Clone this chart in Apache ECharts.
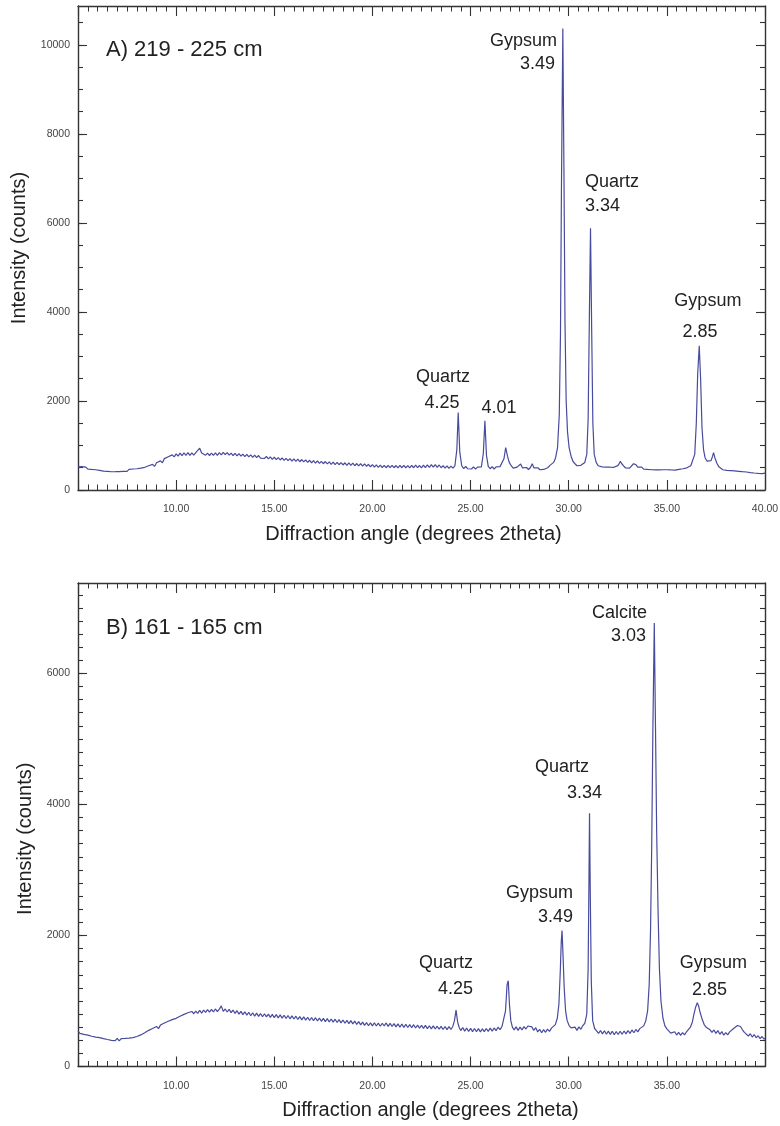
<!DOCTYPE html>
<html><head><meta charset="utf-8">
<script src="https://cdn.jsdelivr.net/npm/echarts@6/dist/echarts.min.js"></script>
<style>html,body{margin:0;padding:0;background:#fff}#c{width:780px;height:1126px}</style>
</head><body><div id="c"></div>
<script>
// ---------- Panel A: 219 - 225 cm  [angle (deg 2theta), counts] ----------
const patternA = [
[5.0,520],[5.1,488],[5.2,525],[5.3,482],[5.4,515],[5.5,470],[5.6,508],[5.7,462],[5.8,498],[5.9,455],
[6.0,490],[6.1,440],[6.2,475],[6.3,425],[6.4,462],[6.5,418],[6.6,455],[6.7,410],[6.8,452],[6.9,412],
[7.0,448],[7.1,415],[7.2,458],[7.3,418],[7.4,462],[7.5,420],[7.6,465],[7.7,428],[7.8,472],[7.9,432],
[8.0,478],[8.1,440],[8.2,490],[8.3,455],[8.4,510],[8.5,470],[8.6,545],[8.7,505],[8.8,575],[8.9,530],
[9.0,612],[9.1,568],[9.2,655],[9.3,610],[9.4,705],[9.5,680],[9.6,748],[9.7,725],[9.8,790],[9.9,745],
[10.0,812],[10.1,762],[10.2,828],[10.3,770],[10.4,835],[10.5,775],[10.6,840],[10.7,780],[10.8,835],[10.9,785],
[11.0,838],[11.1,860],[11.2,940],[11.3,830],[11.4,835],[11.5,782],[11.6,830],[11.7,775],[11.8,828],[11.9,778],
[12.0,832],[12.1,780],[12.2,840],[12.3,790],[12.4,845],[12.5,795],[12.6,840],[12.7,785],[12.8,830],[12.9,775],
[13.0,822],[13.1,768],[13.2,815],[13.3,760],[13.4,808],[13.5,752],[13.6,800],[13.7,745],[13.8,790],[13.9,735],
[14.0,782],[14.1,728],[14.2,775],[14.3,718],[14.4,762],[14.5,708],[14.6,755],[14.7,700],[14.8,745],[14.9,690],
[15.0,738],[15.1,682],[15.2,728],[15.3,675],[15.4,720],[15.5,665],[15.6,712],[15.7,660],[15.8,705],[15.9,650],
[16.0,698],[16.1,645],[16.2,692],[16.3,635],[16.4,685],[16.5,630],[16.6,678],[16.7,622],[16.8,668],[16.9,612],
[17.0,660],[17.1,605],[17.2,652],[17.3,598],[17.4,645],[17.5,590],[17.6,640],[17.7,585],[17.8,632],[17.9,578],
[18.0,628],[18.1,572],[18.2,622],[18.3,568],[18.4,615],[18.5,562],[18.6,612],[18.7,555],[18.8,608],[18.9,552],
[19.0,602],[19.1,545],[19.2,595],[19.3,540],[19.4,590],[19.5,535],[19.6,585],[19.7,530],[19.8,578],[19.9,522],
[20.0,572],[20.1,515],[20.2,565],[20.3,510],[20.4,560],[20.5,505],[20.6,555],[20.7,500],[20.8,552],[20.9,502],
[21.0,555],[21.1,500],[21.2,550],[21.3,498],[21.4,552],[21.5,500],[21.6,555],[21.7,495],[21.8,548],[21.9,495],
[22.0,552],[22.1,500],[22.2,560],[22.3,502],[22.4,550],[22.5,498],[22.6,558],[22.7,505],[22.8,565],[22.9,510],
[23.0,572],[23.1,512],[23.2,568],[23.3,508],[23.4,562],[23.5,500],[23.6,548],[23.7,492],[23.8,540],[23.9,485],
[24.0,535],[24.1,490],[24.2,540],[24.3,900],[24.37,1740],[24.45,850],[24.55,545],[24.65,482],[24.75,528],[24.85,478],
[24.95,522],[25.05,472],[25.15,520],[25.25,470],[25.35,515],[25.45,475],[25.55,520],[25.65,820],[25.73,1555],[25.81,780],
[25.9,530],[26.0,478],[26.1,525],[26.2,472],[26.3,520],[26.4,478],[26.5,525],[26.6,560],[26.7,700],[26.79,955],
[26.88,760],[26.97,620],[27.07,545],[27.17,490],[27.27,470],[27.37,515],[27.47,520],[27.55,585],[27.65,495],[27.75,465],
[27.85,505],[27.95,460],[28.05,505],[28.14,590],[28.23,495],[28.33,462],[28.43,500],[28.53,455],[28.63,498],[28.73,462],
[28.83,505],[28.93,500],[29.03,548],[29.13,560],[29.23,620],[29.33,720],[29.43,950],[29.52,1700],[29.58,3500],[29.63,6800],
[29.70,10370],[29.76,7000],[29.81,3800],[29.87,2000],[29.94,1300],[30.02,950],[30.12,760],[30.22,640],[30.32,590],[30.42,545],
[30.52,520],[30.62,555],[30.72,560],[30.82,620],[30.92,800],[30.99,1600],[31.05,3800],[31.11,5880],[31.17,3600],[31.23,1500],
[31.3,800],[31.4,620],[31.5,545],[31.6,505],[31.7,520],[31.8,490],[31.9,515],[32.0,485],[32.1,512],[32.2,480],
[32.3,510],[32.4,505],[32.5,548],[32.58,600],[32.63,645],[32.7,590],[32.8,540],[32.9,495],[33.0,530],[33.1,490],
[33.2,530],[33.3,590],[33.35,625],[33.42,570],[33.52,515],[33.62,485],[33.72,515],[33.82,470],[33.92,505],[34.02,462],
[34.12,498],[34.22,455],[34.32,492],[34.42,450],[34.52,488],[34.62,452],[34.72,495],[34.82,455],[34.92,498],[35.02,455],
[35.12,492],[35.22,450],[35.32,488],[35.42,448],[35.52,485],[35.62,465],[35.72,490],[35.82,478],[35.92,500],[36.02,498],
[36.12,525],[36.22,545],[36.32,580],[36.42,800],[36.5,1500],[36.57,2600],[36.65,3240],[36.72,2500],[36.79,1400],[36.87,900],
[36.95,720],[37.05,650],[37.15,630],[37.25,660],[37.33,760],[37.38,840],[37.45,720],[37.55,600],[37.65,520],[37.75,495],
[37.85,455],[37.95,490],[38.05,442],[38.15,480],[38.25,435],[38.35,472],[38.45,428],[38.55,465],[38.65,420],[38.75,458],
[38.85,412],[38.95,450],[39.05,405],[39.15,442],[39.25,392],[39.35,428],[39.45,382],[39.55,420],[39.65,375],[39.75,412],
[39.85,370],[39.95,402],[40.0,380]
];

// ---------- Panel B: 161 - 165 cm  [angle (deg 2theta), counts] ----------
const patternB = [
[5.0,540],[5.1,505],[5.2,530],[5.3,490],[5.4,515],[5.5,478],[5.6,500],[5.7,462],[5.8,488],[5.9,448],
[6.0,475],[6.1,440],[6.2,462],[6.3,425],[6.4,450],[6.5,412],[6.6,438],[6.7,400],[6.8,430],[6.9,395],
[7.0,428],[7.1,392],[7.2,425],[7.3,395],[7.4,428],[7.5,398],[7.6,432],[7.7,402],[7.8,440],[7.9,415],
[8.0,458],[8.1,432],[8.2,482],[8.3,460],[8.4,515],[8.5,492],[8.6,552],[8.7,525],[8.8,580],[8.9,555],
[9.0,612],[9.1,578],[9.2,632],[9.3,612],[9.4,665],[9.5,645],[9.6,690],[9.7,665],[9.8,715],[9.9,690],
[10.0,735],[10.1,715],[10.2,768],[10.3,748],[10.4,795],[10.5,775],[10.6,820],[10.7,792],[10.8,840],[10.9,805],
[11.0,845],[11.1,810],[11.2,858],[11.3,815],[11.4,862],[11.5,825],[11.6,868],[11.7,830],[11.8,872],[11.9,835],
[12.0,878],[12.1,838],[12.2,875],[12.3,925],[12.4,842],[12.5,878],[12.6,832],[12.7,872],[12.8,822],[12.9,862],
[13.0,810],[13.1,852],[13.2,800],[13.3,842],[13.4,792],[13.5,835],[13.6,785],[13.7,828],[13.8,775],[13.9,820],
[14.0,768],[14.1,815],[14.2,765],[14.3,808],[14.4,760],[14.5,805],[14.6,758],[14.7,800],[14.8,750],[14.9,795],
[15.0,745],[15.1,792],[15.2,742],[15.3,788],[15.4,738],[15.5,782],[15.6,732],[15.7,778],[15.8,728],[15.9,772],
[16.0,725],[16.1,768],[16.2,718],[16.3,762],[16.4,712],[16.5,758],[16.6,708],[16.7,752],[16.8,702],[16.9,748],
[17.0,698],[17.1,745],[17.2,695],[17.3,738],[17.4,690],[17.5,735],[17.6,685],[17.7,730],[17.8,680],[17.9,725],
[18.0,678],[18.1,722],[18.2,672],[18.3,715],[18.4,665],[18.5,710],[18.6,660],[18.7,705],[18.8,655],[18.9,700],
[19.0,650],[19.1,692],[19.2,642],[19.3,685],[19.4,635],[19.5,678],[19.6,628],[19.7,670],[19.8,622],[19.9,665],
[20.0,620],[20.1,668],[20.2,618],[20.3,662],[20.4,615],[20.5,660],[20.6,618],[20.7,665],[20.8,612],[20.9,658],
[21.0,610],[21.1,655],[21.2,605],[21.3,650],[21.4,602],[21.5,648],[21.6,598],[21.7,645],[21.8,595],[21.9,640],
[22.0,592],[22.1,638],[22.2,588],[22.3,632],[22.4,585],[22.5,630],[22.6,582],[22.7,628],[22.8,578],[22.9,622],
[23.0,575],[23.1,620],[23.2,572],[23.3,615],[23.4,570],[23.5,612],[23.6,565],[23.7,610],[23.8,562],[23.9,608],
[24.0,565],[24.1,615],[24.18,700],[24.26,860],[24.34,680],[24.42,595],[24.5,548],[24.6,595],[24.7,540],[24.8,588],
[24.9,535],[25.0,582],[25.1,532],[25.2,580],[25.3,530],[25.4,578],[25.5,528],[25.6,575],[25.7,532],[25.8,580],
[25.9,535],[26.0,585],[26.1,540],[26.2,588],[26.3,548],[26.4,600],[26.5,562],[26.6,610],[26.7,640],[26.78,850],
[26.86,1250],[26.92,1310],[26.98,950],[27.05,700],[27.13,600],[27.22,560],[27.32,605],[27.42,552],[27.52,600],[27.62,558],
[27.72,608],[27.82,572],[27.92,618],[28.02,630],[28.12,605],[28.22,552],[28.32,592],[28.42,528],[28.52,568],[28.62,515],
[28.72,562],[28.82,522],[28.92,570],[29.02,535],[29.12,585],[29.22,585],[29.32,640],[29.42,740],[29.5,950],[29.57,1450],
[29.62,1900],[29.66,2074],[29.71,1700],[29.77,1200],[29.84,850],[29.92,700],[30.02,625],[30.12,590],[30.22,560],[30.32,600],
[30.42,552],[30.52,605],[30.62,568],[30.72,625],[30.82,660],[30.92,800],[30.99,1500],[31.03,2800],[31.06,3866],[31.1,2600],
[31.15,1300],[31.22,700],[31.32,580],[31.42,545],[31.52,505],[31.62,550],[31.72,498],[31.82,545],[31.92,492],[32.02,540],
[32.12,490],[32.22,538],[32.32,485],[32.42,535],[32.52,488],[32.62,538],[32.72,492],[32.82,542],[32.92,498],[33.02,550],
[33.12,505],[33.22,558],[33.32,515],[33.42,565],[33.52,528],[33.62,578],[33.72,580],[33.82,620],[33.92,690],[34.02,850],
[34.1,1250],[34.17,2100],[34.23,3400],[34.29,5200],[34.36,6770],[34.42,5200],[34.48,3600],[34.55,2400],[34.62,1500],[34.7,1000],
[34.8,740],[34.9,620],[35.0,575],[35.1,548],[35.2,510],[35.3,520],[35.4,530],[35.5,480],[35.6,522],[35.7,475],
[35.8,518],[35.9,482],[36.0,530],[36.1,545],[36.2,600],[36.3,680],[36.38,800],[36.46,900],[36.55,975],[36.62,920],
[36.7,820],[36.8,720],[36.9,640],[37.0,600],[37.1,575],[37.2,560],[37.3,520],[37.4,558],[37.5,505],[37.6,548],
[37.7,492],[37.8,532],[37.9,478],[38.0,518],[38.1,482],[38.2,528],[38.3,540],[38.4,580],[38.5,610],[38.6,625],
[38.67,645],[38.75,610],[38.85,560],[38.95,520],[39.05,510],[39.15,465],[39.25,500],[39.35,450],[39.45,488],[39.55,438],
[39.65,470],[39.75,425],[39.85,458],[39.95,418],[40.0,430]
];

// ---------- Tick labels ----------
const xTickLabelsA = [10, 15, 20, 25, 30, 35, 40];
const xTickLabelsB = [10, 15, 20, 25, 30, 35];
const yTickLabelsA = [0, 2000, 4000, 6000, 8000, 10000];
const yTickLabelsB = [0, 2000, 4000, 6000];
const yMinorStepA = 500, yMinorStepB = 200;
const yMaxA = 10875, yMaxB = 7380;

// ---------- Peak annotations (data coordinates) ----------
const peakTextA = ['Gypsum', '3.49', 'Quartz', '3.34', 'Quartz', '4.25', '4.01', 'Gypsum', '2.85'];
const peakAngleA = [29.40, 29.30, 30.83, 30.83, 23.59, 23.54, 26.45, 37.09, 36.69];
const peakCountA = [10089, 9572, 6921, 6381, 2539, 1955, 1843, 4247, 3550];
const peakAlignA = ['right', 'right', 'left', 'left', 'center', 'center', 'center', 'center', 'center'];

const peakTextB = ['Calcite', '3.03', 'Quartz', '3.34', 'Gypsum', '3.49', 'Quartz', '4.25', 'Gypsum', '2.85'];
const peakAngleB = [33.99, 33.94, 29.66, 30.80, 30.22, 30.22, 25.12, 25.12, 37.37, 37.17];
const peakCountB = [6916, 6565, 4567, 4171, 2646, 2280, 1578, 1182, 1578, 1167];
const peakAlignB = ['right', 'right', 'center', 'center', 'right', 'right', 'right', 'right', 'center', 'center'];

const titleA = 'A) 219 - 225 cm';
const titleB = 'B) 161 - 165 cm';
const xName = 'Diffraction angle (degrees 2theta)';
const yName = 'Intensity (counts)';

// ---------- Build ----------
const FONT = "'Liberation Sans', Arial, Helvetica, sans-serif";
const AX = '#333';
const LINE = '#474b9c';

function steps(max, step) { const r = []; for (let v = 0; v <= max; v += step) r.push(v); return r; }

function xAxisDef(gridIndex, pos, labels, nameOpt) {
  return Object.assign({
    type: 'value', gridIndex, position: pos, min: 5, max: 40, interval: 5,
    axisLine: { show: true, onZero: false, lineStyle: { color: AX, width: 1.4 } },
    axisTick: { show: true, inside: true, length: 10, lineStyle: { color: AX, width: 1.1 } },
    minorTick: { show: true, splitNumber: 10, length: 5.5, lineStyle: { color: AX, width: 1 } },
    splitLine: { show: false }, minorSplitLine: { show: false },
    axisLabel: labels ? { show: true, customValues: labels, formatter: v => Number(v).toFixed(2),
      margin: 14, fontSize: 10.5, color: '#444', fontFamily: FONT } : { show: false }
  }, nameOpt || {});
}
function yAxisDef(gridIndex, pos, max, tickVals, len, labels, showLine, nameOpt) {
  return Object.assign({
    type: 'value', gridIndex, position: pos, min: 0, max: max,
    axisLine: { show: showLine, onZero: false, lineStyle: { color: AX, width: 1.4 } },
    axisTick: { show: true, inside: true, customValues: tickVals, length: len, lineStyle: { color: AX, width: 1.1 } },
    splitLine: { show: false },
    axisLabel: labels ? { show: true, customValues: labels, formatter: v => String(v),
      margin: 8, fontSize: 10.5, color: '#444', fontFamily: FONT } : { show: false }
  }, nameOpt || {});
}
function annot(texts, xs, ys, aligns, xi, yi) {
  return {
    type: 'scatter', xAxisIndex: xi, yAxisIndex: yi, symbolSize: 0, silent: true, z: 5,
    itemStyle: { opacity: 1 },
    data: texts.map((t, i) => ({ value: [xs[i], ys[i]], name: t, label: { align: aligns[i] } })),
    label: { show: true, position: 'inside', formatter: p => p.name, fontSize: 18, color: '#222',
      opacity: 1, fontFamily: FONT, verticalAlign: 'middle' }
  };
}

const nameStyle = { fontSize: 20, color: '#222', fontFamily: FONT };

const option = {
  animation: false,
  backgroundColor: '#fff',
  title: [
    { text: titleA, left: 106, top: 39, padding: 0, textStyle: { fontSize: 22, fontWeight: 'normal', color: '#222', fontFamily: FONT } },
    { text: titleB, left: 106, top: 617, padding: 0, textStyle: { fontSize: 22, fontWeight: 'normal', color: '#222', fontFamily: FONT } }
  ],
  grid: [
    { left: 78, right: 15, top: 6, height: 484, outerBoundsMode: 'none' },
    { left: 78, right: 15, top: 583, height: 483.5, outerBoundsMode: 'none' }
  ],
  xAxis: [
    xAxisDef(0, 'bottom', xTickLabelsA, { name: xName, nameLocation: 'middle', nameGap: 34,
      nameTextStyle: Object.assign({ padding: [0, 16, 0, 0] }, nameStyle) }),
    xAxisDef(0, 'top', null),
    xAxisDef(1, 'bottom', xTickLabelsB, { name: xName, nameLocation: 'middle', nameGap: 34,
      nameTextStyle: Object.assign({ padding: [0, 0, 0, 18] }, nameStyle) }),
    xAxisDef(1, 'top', null)
  ],
  yAxis: [
    yAxisDef(0, 'left', yMaxA, yTickLabelsA, 9, yTickLabelsA, true, { name: yName, nameLocation: 'middle', nameGap: 44, nameTextStyle: nameStyle }),
    yAxisDef(0, 'left', yMaxA, steps(yMaxA, yMinorStepA), 5, null, false),
    yAxisDef(0, 'right', yMaxA, yTickLabelsA, 9, null, true),
    yAxisDef(0, 'right', yMaxA, steps(yMaxA, yMinorStepA), 5, null, false),
    yAxisDef(1, 'left', yMaxB, yTickLabelsB, 9, yTickLabelsB, true, { name: yName, nameLocation: 'middle', nameGap: 37,
      nameTextStyle: Object.assign({ padding: [0, 28, 0, 0] }, nameStyle) }),
    yAxisDef(1, 'left', yMaxB, steps(yMaxB, yMinorStepB), 5, null, false),
    yAxisDef(1, 'right', yMaxB, yTickLabelsB, 9, null, true),
    yAxisDef(1, 'right', yMaxB, steps(yMaxB, yMinorStepB), 5, null, false)
  ],
  series: [
    { type: 'line', xAxisIndex: 0, yAxisIndex: 0, data: patternA, showSymbol: false, symbol: 'none',
      lineStyle: { color: LINE, width: 1.2 }, silent: true },
    { type: 'line', xAxisIndex: 2, yAxisIndex: 4, data: patternB, showSymbol: false, symbol: 'none',
      lineStyle: { color: LINE, width: 1.2 }, silent: true },
    annot(peakTextA, peakAngleA, peakCountA, peakAlignA, 0, 0),
    annot(peakTextB, peakAngleB, peakCountB, peakAlignB, 2, 4)
  ]
};
const chart = echarts.init(document.getElementById('c'));
chart.setOption(option);
</script>
</body></html>
